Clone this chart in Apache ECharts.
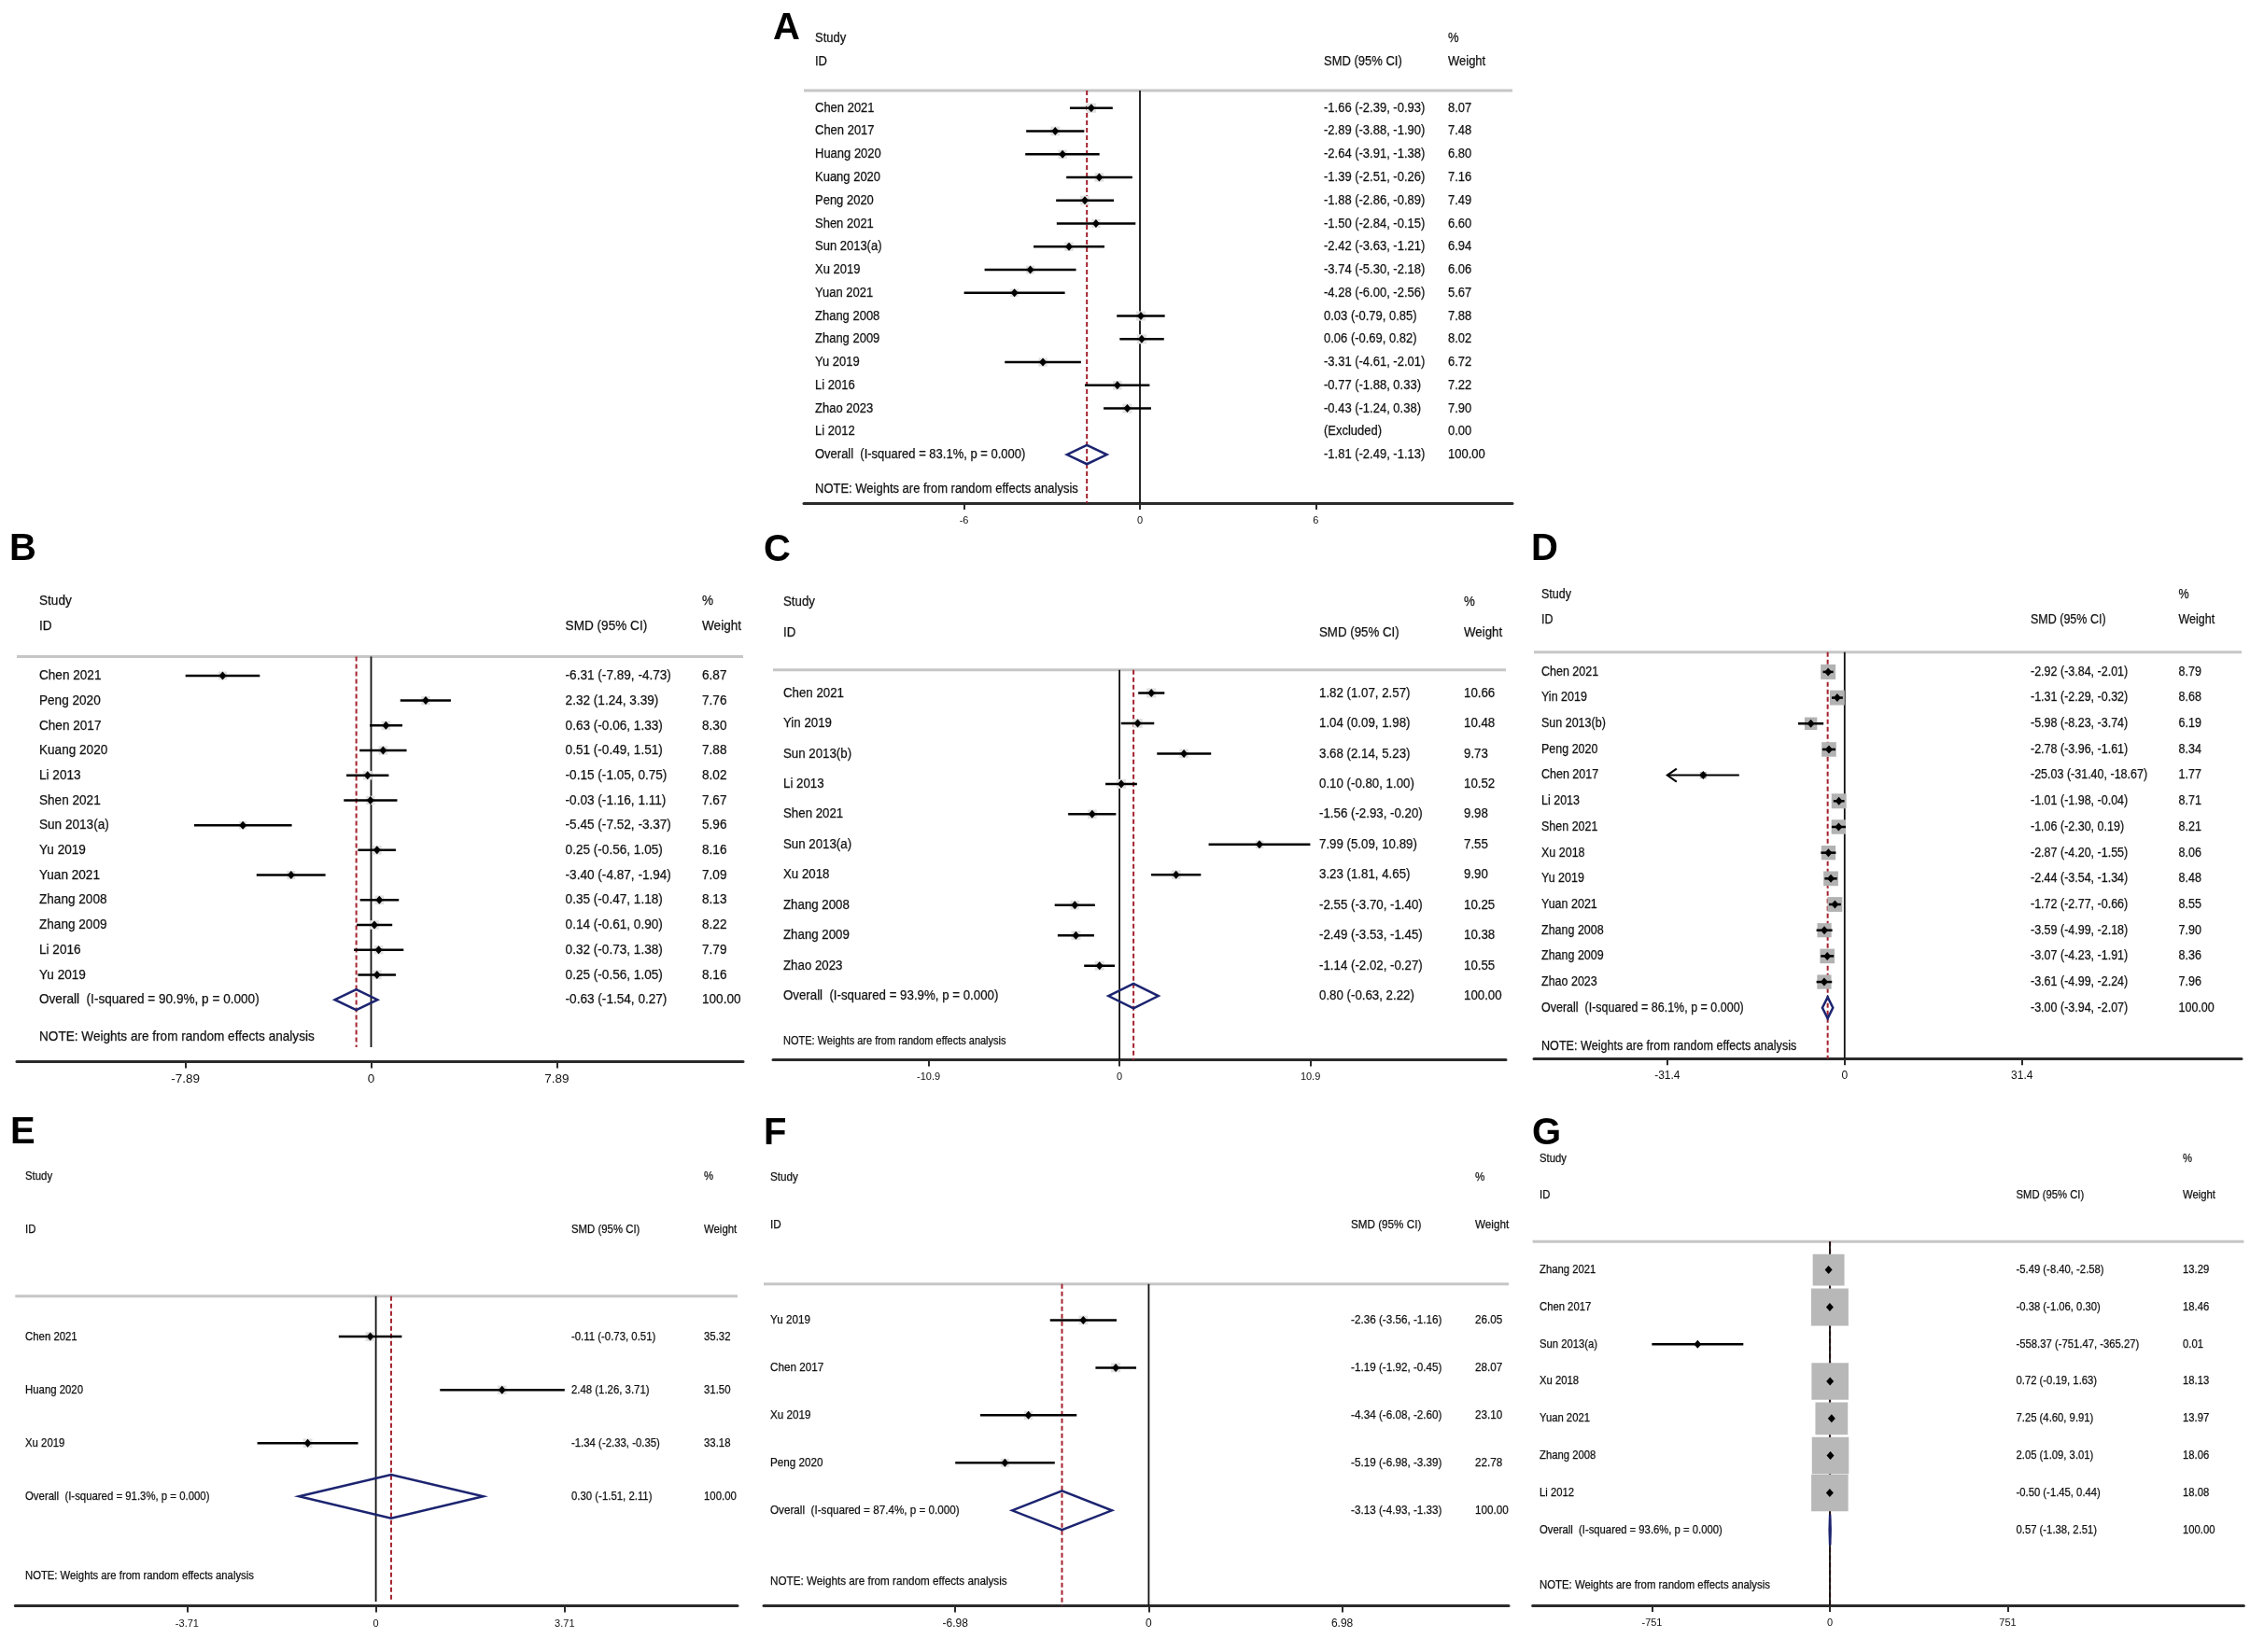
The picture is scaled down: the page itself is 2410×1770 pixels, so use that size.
<!DOCTYPE html>
<html>
<head>
<meta charset="utf-8">
<title>Forest plots A-G</title>
<script src="https://cdn.jsdelivr.net/npm/echarts@6.0.0/dist/echarts.min.js"></script>
<style>
html, body { margin: 0; padding: 0; background: #fff; }
#main { width: 2410px; height: 1770px; }
</style>
</head>
<body>
<div id="main"></div>
<script>
// ---- data, panel A
var aNames = ['Chen 2021','Chen 2017','Huang 2020','Kuang 2020','Peng 2020','Shen 2021','Sun 2013(a)','Xu 2019','Yuan 2021','Zhang 2008','Zhang 2009','Yu 2019','Li 2016','Zhao 2023','Li 2012'];
var aSmd    = [-1.66,-2.89,-2.64,-1.39,-1.88,-1.50,-2.42,-3.74,-4.28,0.03,0.06,-3.31,-0.77,-0.43,null];
var aLow    = [-2.39,-3.88,-3.91,-2.51,-2.86,-2.84,-3.63,-5.30,-6.00,-0.79,-0.69,-4.61,-1.88,-1.24,null];
var aHigh   = [-0.93,-1.90,-1.38,-0.26,-0.89,-0.15,-1.21,-2.18,-2.56,0.85,0.82,-2.01,0.33,0.38,null];
var aWeight = [8.07,7.48,6.80,7.16,7.49,6.60,6.94,6.06,5.67,7.88,8.02,6.72,7.22,7.90,0.00];
var aPooled = [-1.81,-2.49,-1.13];
var aI2 = 83.1;
var aTick = 6;

// ---- panel B
var bNames = ['Chen 2021','Peng 2020','Chen 2017','Kuang 2020','Li 2013','Shen 2021','Sun 2013(a)','Yu 2019','Yuan 2021','Zhang 2008','Zhang 2009','Li 2016','Yu 2019'];
var bSmd    = [-6.31,2.32,0.63,0.51,-0.15,-0.03,-5.45,0.25,-3.40,0.35,0.14,0.32,0.25];
var bLow    = [-7.89,1.24,-0.06,-0.49,-1.05,-1.16,-7.52,-0.56,-4.87,-0.47,-0.61,-0.73,-0.56];
var bHigh   = [-4.73,3.39,1.33,1.51,0.75,1.11,-3.37,1.05,-1.94,1.18,0.90,1.38,1.05];
var bWeight = [6.87,7.76,8.30,7.88,8.02,7.67,5.96,8.16,7.09,8.13,8.22,7.79,8.16];
var bPooled = [-0.63,-1.54,0.27];
var bI2 = 90.9;
var bTick = 7.89;

// ---- panel C
var cNames = ['Chen 2021','Yin 2019','Sun 2013(b)','Li 2013','Shen 2021','Sun 2013(a)','Xu 2018','Zhang 2008','Zhang 2009','Zhao 2023'];
var cSmd    = [1.82,1.04,3.68,0.10,-1.56,7.99,3.23,-2.55,-2.49,-1.14];
var cLow    = [1.07,0.09,2.14,-0.80,-2.93,5.09,1.81,-3.70,-3.53,-2.02];
var cHigh   = [2.57,1.98,5.23,1.00,-0.20,10.89,4.65,-1.40,-1.45,-0.27];
var cWeight = [10.66,10.48,9.73,10.52,9.98,7.55,9.90,10.25,10.38,10.55];
var cPooled = [0.80,-0.63,2.22];
var cI2 = 93.9;
var cTick = 10.9;

// ---- panel D
var dNames = ['Chen 2021','Yin 2019','Sun 2013(b)','Peng 2020','Chen 2017','Li 2013','Shen 2021','Xu 2018','Yu 2019','Yuan 2021','Zhang 2008','Zhang 2009','Zhao 2023'];
var dSmd    = [-2.92,-1.31,-5.98,-2.78,-25.03,-1.01,-1.06,-2.87,-2.44,-1.72,-3.59,-3.07,-3.61];
var dLow    = [-3.84,-2.29,-8.23,-3.96,-31.40,-1.98,-2.30,-4.20,-3.54,-2.77,-4.99,-4.23,-4.99];
var dHigh   = [-2.01,-0.32,-3.74,-1.61,-18.67,-0.04,0.19,-1.55,-1.34,-0.66,-2.18,-1.91,-2.24];
var dWeight = [8.79,8.68,6.19,8.34,1.77,8.71,8.21,8.06,8.48,8.55,7.90,8.36,7.96];
var dPooled = [-3.00,-3.94,-2.07];
var dI2 = 86.1;
var dTick = 31.4;
var dArrows = ['Chen 2017'];

// ---- panel E
var eNames = ['Chen 2021','Huang 2020','Xu 2019'];
var eSmd    = [-0.11,2.48,-1.34];
var eLow    = [-0.73,1.26,-2.33];
var eHigh   = [0.51,3.71,-0.35];
var eWeight = [35.32,31.50,33.18];
var ePooled = [0.30,-1.51,2.11];
var eI2 = 91.3;
var eTick = 3.71;

// ---- panel F
var fNames = ['Yu 2019','Chen 2017','Xu 2019','Peng 2020'];
var fSmd    = [-2.36,-1.19,-4.34,-5.19];
var fLow    = [-3.56,-1.92,-6.08,-6.98];
var fHigh   = [-1.16,-0.45,-2.60,-3.39];
var fWeight = [26.05,28.07,23.10,22.78];
var fPooled = [-3.13,-4.93,-1.33];
var fI2 = 87.4;
var fTick = 6.98;

// ---- panel G
var gNames = ['Zhang 2021','Chen 2017','Sun 2013(a)','Xu 2018','Yuan 2021','Zhang 2008','Li 2012'];
var gSmd    = [-5.49,-0.38,-558.37,0.72,7.25,2.05,-0.50];
var gLow    = [-8.40,-1.06,-751.47,-0.19,4.60,1.09,-1.45];
var gHigh   = [-2.58,0.30,-365.27,1.63,9.91,3.01,0.44];
var gWeight = [13.29,18.46,0.01,18.13,13.97,18.06,18.08];
var gPooled = [0.57,-1.38,2.51];
var gI2 = 93.6;
var gTick = 751;

var FONT = '"Liberation Sans", Arial, Helvetica, sans-serif';
var TALL = 1.12; // stata text is a bit narrower than arial, so stretch up and squeeze back

var panels = [
  {tag: 'A', names: aNames, smd: aSmd, low: aLow, high: aHigh, weight: aWeight, pooled: aPooled, i2: aI2, tick: aTick, arrows: []},
  {tag: 'B', names: bNames, smd: bSmd, low: bLow, high: bHigh, weight: bWeight, pooled: bPooled, i2: bI2, tick: bTick, arrows: []},
  {tag: 'C', names: cNames, smd: cSmd, low: cLow, high: cHigh, weight: cWeight, pooled: cPooled, i2: cI2, tick: cTick, arrows: []},
  {tag: 'D', names: dNames, smd: dSmd, low: dLow, high: dHigh, weight: dWeight, pooled: dPooled, i2: dI2, tick: dTick, arrows: dArrows},
  {tag: 'E', names: eNames, smd: eSmd, low: eLow, high: eHigh, weight: eWeight, pooled: ePooled, i2: eI2, tick: eTick, arrows: []},
  {tag: 'F', names: fNames, smd: fSmd, low: fLow, high: fHigh, weight: fWeight, pooled: fPooled, i2: fI2, tick: fTick, arrows: []},
  {tag: 'G', names: gNames, smd: gSmd, low: gLow, high: gHigh, weight: gWeight, pooled: gPooled, i2: gI2, tick: gTick, arrows: []}
];

// page layout in pixels: box edges, zero line, px per unit, first row, row step, axis line
var layout = {
  A: {boxL: 861, boxR: 1620, zero: 1221, ppu: 31.4, y0: 115.7, step: 24.76, axisY: 539, lineEnd: 539, cols: [873, 1418, 1551], fs: 13, noteFs: 13, tickFs: 11, boxK: 3.6, boxFill: '#e2e2e2', letter: [828, 31]},
  B: {boxL: 18, boxR: 796, zero: 397.5, ppu: 25.2, y0: 723.9, step: 26.71, axisY: 1137.4, lineEnd: 1122, cols: [42, 605.6, 752], fs: 13.6, noteFs: 13.6, tickFs: 13.5, boxK: 3.4, boxFill: '#e2e2e2', letter: [10, 589]},
  C: {boxL: 828, boxR: 1613, zero: 1199.1, ppu: 18.76, y0: 742.5, step: 32.46, axisY: 1135.4, lineEnd: 1135.4, cols: [839, 1413, 1568], fs: 13.3, noteFs: 11, tickFs: 11, boxK: 3.1, boxFill: '#e2e2e2', letter: [818, 590]},
  D: {boxL: 1643, boxR: 2401, zero: 1975.8, ppu: 6.05, y0: 719.9, step: 27.68, axisY: 1134.2, lineEnd: 1134.2, cols: [1651, 2175, 2333.5], fs: 12.5, noteFs: 12.6, tickFs: 12, boxK: 5.4, boxFill: '#b2b2b2', letter: [1640, 589]},
  E: {boxL: 16.3, boxR: 790, zero: 402.6, ppu: 54.5, y0: 1432.1, step: 57.07, axisY: 1720.6, lineEnd: 1716, cols: [27, 612, 754], fs: 11.4, noteFs: 11.3, tickFs: 11, boxK: 1.7, boxFill: '#e2e2e2', letter: [11, 1213.5]},
  F: {boxL: 818, boxR: 1616, zero: 1230.4, ppu: 29.68, y0: 1414.4, step: 50.98, axisY: 1720.6, lineEnd: 1720.6, cols: [825, 1447, 1580], fs: 11.7, noteFs: 11.7, tickFs: 12, boxK: 1.9, boxFill: '#e2e2e2', letter: [818, 1214.5]},
  G: {boxL: 1641.6, boxR: 2403.4, zero: 1960, ppu: 0.2537, y0: 1360.6, step: 39.8, axisY: 1719.9, lineEnd: 1719.9, cols: [1649, 2159.5, 2338], fs: 11.3, noteFs: 11.4, tickFs: 11, boxK: 9.3, boxFill: '#b8b8b8', letter: [1641, 1214.5]}
};

function fmt(v) { return v.toFixed(2); }
function ciText(e, l, h) {
  if (e == null) return '(Excluded)';
  return fmt(e) + ' (' + fmt(l) + ', ' + fmt(h) + ')';
}

var grids = [], xAxes = [], yAxes = [], series = [], graphics = [];

panels.forEach(function (p, idx) {
  var L = layout[p.tag];
  var topRow = -3.6, greyRow = -0.76;
  var axisRow = (L.axisY - L.y0) / L.step;
  var endRow = (L.lineEnd - L.y0) / L.step;
  var xMin = (L.boxL - L.zero) / L.ppu;
  var xMax = (L.boxR - L.zero) / L.ppu;
  var top = L.y0 + topRow * L.step;
  var toX = function (px) { return (px - L.zero) / L.ppu; };
  var n = p.names.length;
  var ovRow = n;
  var ticks = [-p.tick, 0, p.tick];

  grids.push({left: L.boxL, top: top, width: L.boxR - L.boxL, height: L.axisY - top});
  xAxes.push({
    gridIndex: idx, type: 'value', min: xMin, max: xMax,
    axisLine: {show: true, onZero: false, lineStyle: {color: '#2b2b2b', width: 3}},
    axisTick: {show: true, customValues: ticks, length: 7, lineStyle: {color: '#2b2b2b', width: 2}},
    axisLabel: {show: true, customValues: ticks, margin: 20 - L.tickFs * 0.6,
      formatter: function (v) { return String(v); },
      color: '#111', fontFamily: FONT, fontSize: L.tickFs},
    splitLine: {show: false}
  });
  yAxes.push({gridIndex: idx, type: 'value', min: topRow, max: axisRow, inverse: true, show: false});

  // grey rule, pooled (dashed) line, null line
  series.push({
    type: 'custom', xAxisIndex: idx, yAxisIndex: idx, z: 1, silent: true,
    data: [[xMin, greyRow, 0], [p.pooled[0], greyRow, 1], [0, greyRow, 2]],
    renderItem: function (params, api) {
      var kind = api.value(2);
      if (kind === 0) {
        var a = api.coord([xMin, greyRow]), b = api.coord([xMax, greyRow]);
        return {type: 'line', shape: {x1: a[0], y1: a[1], x2: b[0], y2: b[1]}, style: {stroke: '#c6c6c6', lineWidth: 3}};
      }
      var s = api.coord([api.value(0), greyRow]), e = api.coord([api.value(0), endRow]);
      var st = kind === 1
        ? {stroke: '#a3222e', lineWidth: 2, lineDash: [5, 3]}
        : {stroke: '#111', lineWidth: 1.8};
      return {type: 'line', shape: {x1: s[0], y1: s[1], x2: e[0], y2: e[1]}, style: st};
    }
  });

  // study boxes, CIs and point estimates
  var marks = [];
  p.names.forEach(function (nm, i) {
    if (p.smd[i] == null) return;
    marks.push([p.smd[i], p.low[i], p.high[i], p.weight[i], i, p.arrows.indexOf(nm) >= 0 ? 1 : 0]);
  });
  series.push({
    type: 'custom', xAxisIndex: idx, yAxisIndex: idx, z: 3, silent: true,
    data: marks,
    renderItem: function (params, api) {
      var row = api.value(4), arrow = api.value(5);
      var c = api.coord([api.value(0), row]);
      var a = api.coord([api.value(1), row]);
      var b = api.coord([api.value(2), row]);
      var side = L.boxK * Math.sqrt(api.value(3));
      var kids = [
        {type: 'rect', shape: {x: c[0] - side / 2, y: c[1] - side / 2, width: side, height: side}, style: {fill: L.boxFill}},
        {type: 'line', shape: {x1: a[0], y1: a[1], x2: b[0], y2: b[1]}, style: {stroke: '#000', lineWidth: arrow ? 2 : 2.5}},
        {type: 'polygon', shape: {points: [[c[0] - 4, c[1]], [c[0], c[1] - 4.5], [c[0] + 4, c[1]], [c[0], c[1] + 4.5]]}, style: {fill: '#000'}}
      ];
      if (arrow) {
        kids.push({type: 'polyline', shape: {points: [[a[0] + 10, a[1] - 7], [a[0], a[1]], [a[0] + 10, a[1] + 7]]}, style: {stroke: '#000', lineWidth: 2, fill: null}});
      }
      return {type: 'group', children: kids};
    }
  });

  // pooled diamond
  series.push({
    type: 'custom', xAxisIndex: idx, yAxisIndex: idx, z: 4, silent: true,
    data: [[p.pooled[0], p.pooled[1], p.pooled[2], ovRow]],
    renderItem: function (params, api) {
      var row = api.value(3);
      var c = api.coord([api.value(0), row]);
      var a = api.coord([api.value(1), row]);
      var b = api.coord([api.value(2), row]);
      var h = 0.41 * L.step;
      return {type: 'polygon',
        shape: {points: [[a[0], a[1]], [c[0], c[1] - h], [b[0], b[1]], [c[0], c[1] + h]]},
        style: {fill: null, stroke: '#1c2470', lineWidth: 2.5}};
    }
  });

  // text columns
  var cells = [
    {x: L.cols[0], row: -3, text: 'Study', size: L.fs},
    {x: L.cols[0], row: -2, text: 'ID', size: L.fs},
    {x: L.cols[1], row: -2, text: 'SMD (95% CI)', size: L.fs},
    {x: L.cols[2], row: -3, text: '%', size: L.fs},
    {x: L.cols[2], row: -2, text: 'Weight', size: L.fs}
  ];
  p.names.forEach(function (nm, i) {
    cells.push({x: L.cols[0], row: i, text: nm, size: L.fs});
    cells.push({x: L.cols[1], row: i, text: ciText(p.smd[i], p.low[i], p.high[i]), size: L.fs});
    cells.push({x: L.cols[2], row: i, text: fmt(p.weight[i]), size: L.fs});
  });
  cells.push({x: L.cols[0], row: ovRow, text: 'Overall  (I-squared = ' + p.i2.toFixed(1) + '%, p = 0.000)', size: L.fs});
  cells.push({x: L.cols[1], row: ovRow, text: ciText(p.pooled[0], p.pooled[1], p.pooled[2]), size: L.fs});
  cells.push({x: L.cols[2], row: ovRow, text: '100.00', size: L.fs});
  cells.push({x: L.cols[0], row: ovRow + 1.5, text: 'NOTE: Weights are from random effects analysis', size: L.noteFs});

  series.push({
    type: 'custom', xAxisIndex: idx, yAxisIndex: idx, z: 6, silent: true,
    data: cells.map(function (c) { return [toX(c.x), c.row]; }),
    renderItem: function (params, api) {
      var c = cells[params.dataIndex];
      var pt = api.coord([api.value(0), api.value(1)]);
      return {type: 'text', x: pt[0], y: pt[1], scaleX: 1 / TALL,
        style: {text: c.text, fontFamily: FONT, fontSize: c.size * TALL, fill: '#111',
          stroke: '#111', lineWidth: 0.25, align: 'left', verticalAlign: 'middle'}};
    }
  });

  graphics.push({type: 'text', x: L.letter[0], y: L.letter[1],
    style: {text: p.tag, fontFamily: FONT, fontWeight: 'bold', fontSize: 40, fill: '#000', verticalAlign: 'middle'}});
});

var chart = echarts.init(document.getElementById('main'));
chart.setOption({
  backgroundColor: '#fff',
  animation: false,
  grid: grids,
  xAxis: xAxes,
  yAxis: yAxes,
  series: series,
  graphic: graphics
});
</script>
</body>
</html>
